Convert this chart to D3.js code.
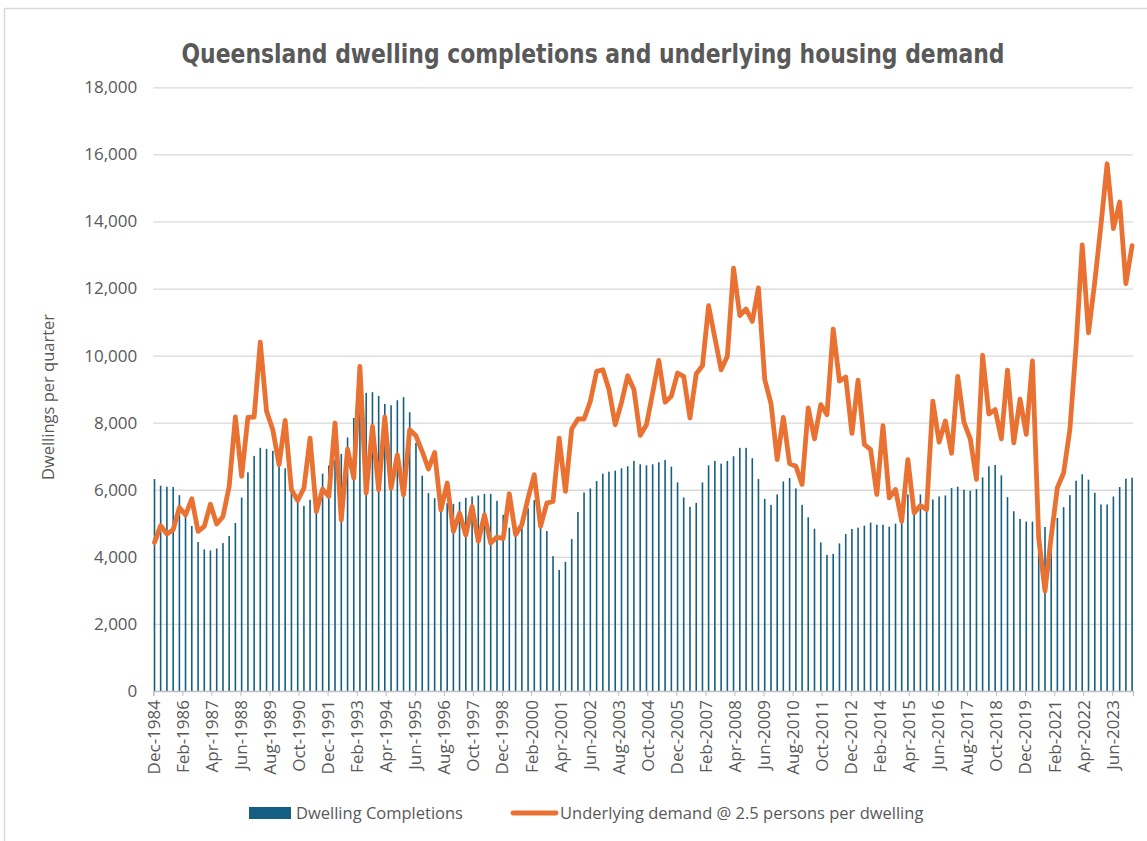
<!DOCTYPE html>
<html>
<head>
<meta charset="utf-8">
<script src="https://cdn.jsdelivr.net/npm/d3@7"></script>
<style>
  body { margin: 0; background: #fff; }
  svg text { font-family: "Open Sans", "Liberation Sans", sans-serif; fill: #595959; }
</style>
</head>
<body>
<svg id="chart" width="1147" height="841"></svg>
<script>
// Quarterly data, Dec-1984 to Mar-2024
const firstQuarter = "Dec-1984";
const lastQuarter = "Mar-2024";

const completions = [
  6320, 6120, 6090, 6080, 5840, 5350, 4920, 4440, 4220, 4190,
  4250, 4410, 4620, 5010, 5770, 6520, 7010, 7250, 7220, 7160,
  6900, 6640, 6100, 5700, 5520, 5700, 5900, 6480, 6720, 6900,
  7070, 7560, 8140, 8500, 8890, 8910, 8800, 8560, 8520, 8670,
  8760, 8310, 7400, 6420, 5900, 5750, 5600, 5600, 5580, 5640,
  5760, 5800, 5830, 5880, 5880, 5670, 5250, 4870, 4850, 5000,
  5450, 5690, 5100, 4770, 4020, 3610, 3850, 4530, 5340, 5920,
  6040, 6260, 6480, 6540, 6570, 6640, 6700, 6860, 6760, 6730,
  6760, 6820, 6890, 6690, 6220, 5770, 5490, 5610, 6220, 6730,
  6860, 6780, 6860, 7000, 7250, 7250, 6940, 6320, 5730, 5550,
  5860, 6250, 6350, 6040, 5550, 5180, 4840, 4430, 4060, 4090,
  4400, 4680, 4830, 4870, 4930, 5020, 4960, 4960, 4900, 4990,
  5050, 5860, 5500, 5860, 5700, 5710, 5800, 5830, 6050, 6090,
  6000, 5970, 6020, 6370, 6700, 6740, 6430, 5780, 5360, 5130,
  5050, 5050, 4950, 4890, 4800, 5160, 5480, 5840, 6270, 6460,
  6300, 5910, 5560, 5560, 5800, 6080, 6330, 6360
];

const demand = [
  4430, 4930, 4680, 4810, 5470, 5250, 5730, 4760, 4910, 5570,
  4980, 5200, 6100, 8170, 6400, 8160, 8170, 10400, 8340, 7790,
  6750, 8070, 6000, 5680, 6050, 7540, 5350, 6020, 5800, 7990,
  5100, 7210, 6350, 9680, 5900, 7890, 6000, 8170, 6050, 7040,
  5850, 7790, 7610, 7140, 6620, 7110, 5400, 6200, 4760, 5300,
  4650, 5500, 4460, 5250, 4410, 4590, 4540, 5880, 4660, 4960,
  5750, 6450, 4910, 5600, 5650, 7540, 5950, 7810, 8110, 8110,
  8640, 9530, 9580, 8990, 7940, 8600, 9400, 8990, 7620, 7940,
  8890, 9860, 8610, 8790, 9480, 9380, 8140, 9460, 9700, 11490,
  10530, 9580, 9980, 12610, 11190, 11390, 11020, 12020, 9290, 8570,
  6900, 8160, 6780, 6700, 6160, 8440, 7520, 8540, 8240, 10790,
  9240, 9360, 7680, 9270, 7350, 7200, 5860, 7910, 5760, 6010,
  5060, 6900, 5310, 5530, 5410, 8640, 7420, 8050, 7090, 9380,
  8010, 7520, 6310, 10010, 8260, 8390, 7520, 9570, 7400, 8700,
  7650, 9840, 4550, 2980, 4600, 6060, 6500, 7800, 10300, 13300,
  10680, 12200, 13900, 15720, 13790, 14580, 12150, 13280
];

const xTickLabels = [
  "Dec-1984", "Feb-1986", "Apr-1987", "Jun-1988", "Aug-1989", "Oct-1990",
  "Dec-1991", "Feb-1993", "Apr-1994", "Jun-1995", "Aug-1996", "Oct-1997",
  "Dec-1998", "Feb-2000", "Apr-2001", "Jun-2002", "Aug-2003", "Oct-2004",
  "Dec-2005", "Feb-2007", "Apr-2008", "Jun-2009", "Aug-2010", "Oct-2011",
  "Dec-2012", "Feb-2014", "Apr-2015", "Jun-2016", "Aug-2017", "Oct-2018",
  "Dec-2019", "Feb-2021", "Apr-2022", "Jun-2023"
];
const yTicks = [0, 2000, 4000, 6000, 8000, 10000, 12000, 14000, 16000, 18000];

const seriesNames = ["Dwelling Completions", "Underlying demand @ 2.5 persons per dwelling"];
const title = "Queensland dwelling completions and underlying housing demand";
const yTitle = "Dwellings per quarter";

const parseMonth = d3.timeParse("%b-%Y");
const quarters = d3.timeMonth.range(parseMonth(firstQuarter), d3.timeMonth.offset(parseMonth(lastQuarter), 1), 3);
const data = quarters.map((d, i) => ({ date: d, built: completions[i], need: demand[i] }));

const svg = d3.select("#chart");
const margin = { top: 87.3, right: 14, bottom: 150, left: 153.3 };
const width = 1147 - margin.left - margin.right;
const height = 841 - margin.top - margin.bottom;

// chart frame
svg.append("rect")
  .attr("x", 4.5).attr("y", 8.5)
  .attr("width", 1160).attr("height", 860)
  .attr("fill", "none").attr("stroke", "#d9d9d9").attr("stroke-width", 1.5);

const g = svg.append("g").attr("transform", `translate(${margin.left},${margin.top})`);

const x = d3.scaleTime()
  .domain([parseMonth(firstQuarter), d3.timeMonth.offset(parseMonth(lastQuarter), 1)])
  .range([0, width]);

const y = d3.scaleLinear().domain([0, 18000]).range([height, 0]);

// gridlines
g.append("g")
  .call(d3.axisLeft(y).tickValues(yTicks.slice(1)).tickSize(-width).tickFormat(""))
  .call((s) => s.select(".domain").remove())
  .call((s) => s.selectAll("line").attr("stroke", "#d9d9d9").attr("stroke-width", 1.3));

// y axis labels
g.append("g")
  .call(d3.axisLeft(y).tickValues(yTicks).tickSize(0).tickPadding(16).tickFormat(d3.format(",")))
  .call((s) => s.select(".domain").remove())
  .call((s) => s.selectAll("text").attr("font-size", 17).style("font-family", '"Open Sans", sans-serif').attr("fill", "#595959"));

// bars
g.selectAll(".bar")
  .data(data)
  .enter()
  .append("rect")
  .attr("class", "bar")
  .attr("x", (d) => x(d.date) + 0.4)
  .attr("y", (d) => y(d.built))
  .attr("width", 1.6)
  .attr("height", (d) => height - y(d.built))
  .attr("fill", "#156082");

// x axis
const xAxis = g.append("g")
  .attr("transform", `translate(0,${height})`)
  .call(d3.axisBottom(x).tickValues(xTickLabels.map(parseMonth)).tickSize(5).tickFormat(d3.timeFormat("%b-%Y")));
xAxis.select(".domain").attr("stroke", "#bfbfbf").attr("stroke-width", 1.3);
xAxis.selectAll("line").attr("stroke", "#bfbfbf");
xAxis.selectAll("text")
  .attr("y", 0).attr("x", -9).attr("dy", "0.35em")
  .attr("transform", "rotate(-90)")
  .style("text-anchor", "end")
  .attr("font-size", 17)
  .attr("fill", "#595959");

// demand line
const line = d3.line()
  .x((d) => x(d.date) + 1.2)
  .y((d) => y(d.need));

g.append("path")
  .datum(data)
  .attr("d", line)
  .attr("fill", "none")
  .attr("stroke", "#E97132")
  .attr("stroke-width", 4.8)
  .attr("stroke-linejoin", "round")
  .attr("stroke-linecap", "round");

// title
svg.append("text")
  .attr("x", 593).attr("y", 63)
  .attr("text-anchor", "middle")
  .attr("textLength", 823)
  .attr("lengthAdjust", "spacingAndGlyphs")
  .style("font-family", '"Liberation Sans Narrow", "DejaVu Sans Condensed", sans-serif')
  .style("font-weight", "bold")
  .style("font-size", "27px")
  .attr("fill", "#595959")
  .text(title);

// y title
svg.append("text")
  .attr("transform", "translate(54,397) rotate(-90)")
  .attr("text-anchor", "middle")
  .style("font-size", "16.5px")
  .text(yTitle);

// legend
const legend = svg.append("g").attr("transform", "translate(249,813)");
legend.append("rect").attr("x", 0).attr("y", -6).attr("width", 42).attr("height", 12).attr("fill", "#156082");
legend.append("text").attr("x", 47).attr("y", 6).style("font-size", "16.5px").text(seriesNames[0]);
legend.append("line").attr("x1", 264).attr("x2", 307).attr("y1", 0).attr("y2", 0)
  .attr("stroke", "#E97132").attr("stroke-width", 4.8).attr("stroke-linecap", "round");
legend.append("text").attr("x", 311).attr("y", 6).style("font-size", "16.5px").text(seriesNames[1]);
</script>
</body>
</html>
